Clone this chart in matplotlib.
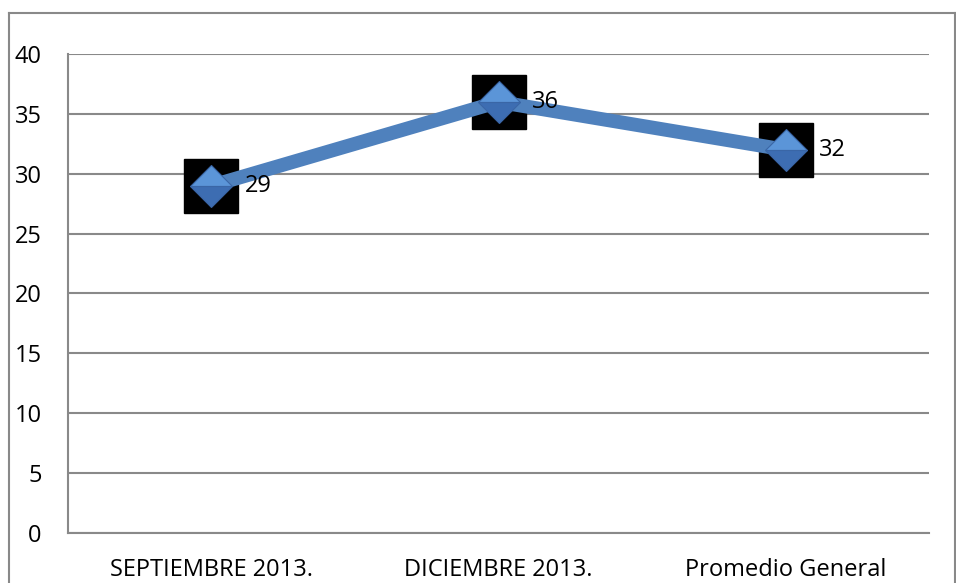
import matplotlib.pyplot as plt
from matplotlib.lines import Line2D

# datos del grafico
periodos = ['SEPTIEMBRE 2013.', 'DICIEMBRE 2013.', 'Promedio General']
valores = [29, 36, 32]
ticks_y = [0, 5, 10, 15, 20, 25, 30, 35, 40]

plt.rcParams['font.family'] = ['Open Sans', 'DejaVu Sans']

fig = plt.figure(figsize=(9.56, 5.83), dpi=100)
ax = fig.add_axes([0.0711, 0.0858, 0.9007, 0.8216])

gris = '#898989'
azul = '#4F81BD'
x = range(len(periodos))

# cuadro negro detras de cada punto, linea y rombo encima
ax.plot(x, valores, linestyle='none', marker='s', markersize=39,
        color='black', zorder=3, clip_on=False)
ax.plot(x, valores, color=azul, linewidth=10, zorder=4,
        solid_capstyle='butt', clip_on=False)
ax.plot(x, valores, linestyle='none', marker='D', markersize=21.5,
        fillstyle='top', markerfacecolor='#5B95D8', markerfacecoloralt='#3D6DB2',
        markeredgecolor='#3A66A6', markeredgewidth=0.8, zorder=5, clip_on=False)

for i, v in enumerate(valores):
    ax.annotate(str(v), (i, v), xytext=(24, 0), textcoords='offset points',
                ha='left', va='center', fontsize=17, zorder=6)

ax.set_xlim(-0.5, len(periodos) - 0.5)
ax.set_ylim(0, 40)
ax.set_yticks(ticks_y)
ax.set_xticks(list(x))
ax.set_xticklabels(periodos)
ax.tick_params(axis='both', length=0, labelsize=17)
ax.tick_params(axis='y', pad=19)
ax.tick_params(axis='x', pad=18)

ax.grid(axis='y', color=gris, linewidth=1.5)
ax.set_axisbelow(True)
for lado in ['top', 'right']:
    ax.spines[lado].set_visible(False)
for lado in ['left', 'bottom']:
    ax.spines[lado].set_color(gris)
    ax.spines[lado].set_linewidth(1.5)

# marco exterior del area del grafico
borde = dict(color=gris, linewidth=1.5, transform=fig.transFigure)
fig.add_artist(Line2D([0.0094, 0.0094], [-0.01, 0.9777], **borde))
fig.add_artist(Line2D([0.0094, 0.9990], [0.9777, 0.9777], **borde))
fig.add_artist(Line2D([0.9990, 0.9990], [-0.01, 0.9777], **borde))

fig.savefig('out.png', dpi=100)
